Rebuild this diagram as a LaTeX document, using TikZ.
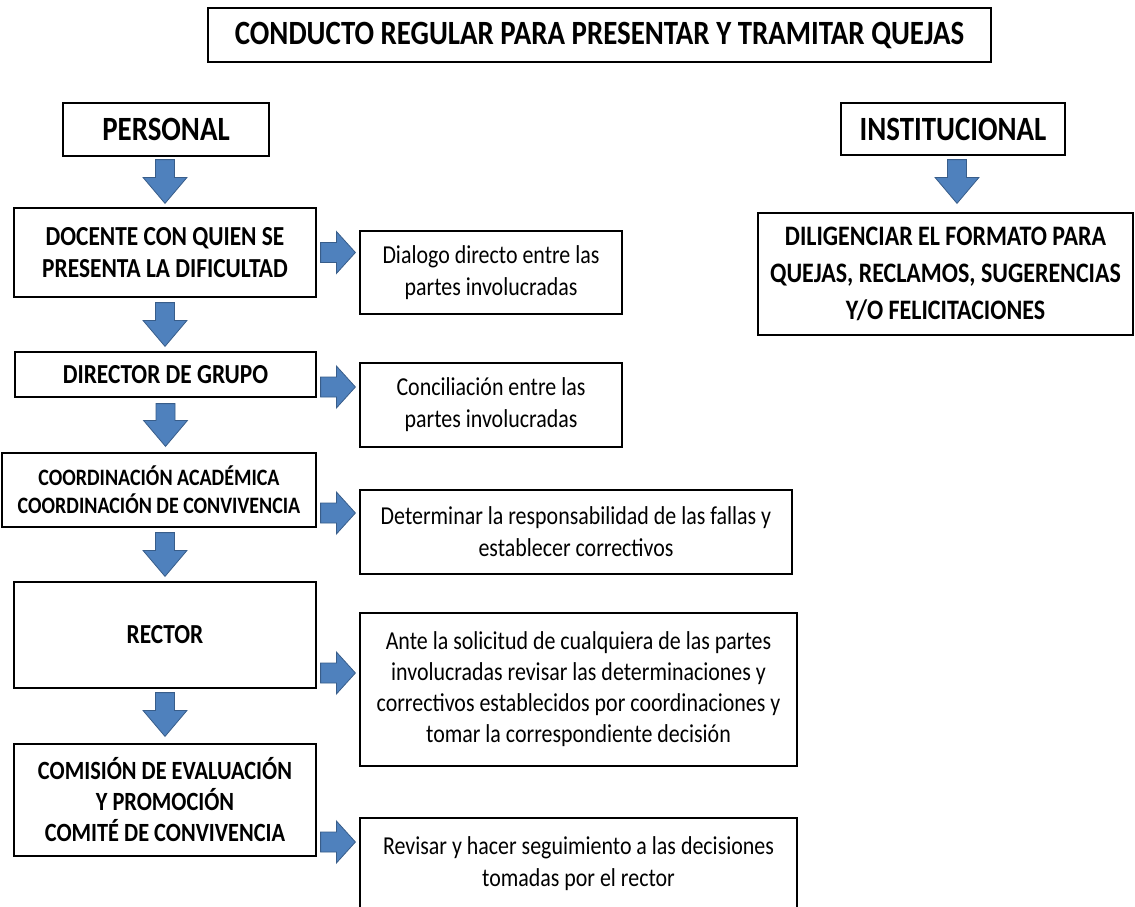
\documentclass[tikz,border=0pt]{standalone}
\usepackage{fontspec}
\setmainfont{Carlito}[FakeStretch=0.85]
\usetikzlibrary{calc}
\definecolor{arrfill}{RGB}{79,129,189}
\definecolor{arrline}{RGB}{56,93,138}
\tikzset{
  box/.style={draw=black, line width=1.2pt, rectangle, inner sep=0pt, align=center, text=black},
  blockarrow/.style={fill=arrfill, draw=arrline, line width=0.8pt, line join=miter},
  headfont/.style={font=\bfseries\fontsize{34}{38}\selectfont},
  labfont/.style={font=\bfseries\fontsize{27.5}{32}\selectfont},
  txtfont/.style={font=\fontsize{25.8}{32}\selectfont},
}
\newcommand\blockdown[2]{\filldraw[blockarrow] let \p1=(#1), \p2=(#2) in
  (\x1-9.5pt,\y1) -- (\x1+9.5pt,\y1) -- (\x1+9.5pt,\y2+26pt) -- (\x1+22pt,\y2+26pt)
  -- (\x1,\y2) -- (\x1-22pt,\y2+26pt) -- (\x1-9.5pt,\y2+26pt) -- cycle;}
\newcommand\blockright[2]{\filldraw[blockarrow] let \p1=(#1), \p2=(#2) in
  (\x1,\y1+10pt) -- (\x2-19pt,\y1+10pt) -- (\x2-19pt,\y1+21pt) -- (\x2,\y1)
  -- (\x2-19pt,\y1-21pt) -- (\x2-19pt,\y1-10pt) -- (\x1,\y1-10pt) -- cycle;}
\begin{document}
\begin{tikzpicture}[x=1pt,y=-1pt]
\useasboundingbox (0,0) rectangle (1135,907);
\clip (0,0) rectangle (1135,907);
\fill[white] (0,0) rectangle (1135,907);
% title
\node[box, headfont, minimum width=783pt, minimum height=54pt] (title) at (599.5,35) {CONDUCTO REGULAR PARA PRESENTAR Y TRAMITAR QUEJAS};
% left column
\node[box, headfont, minimum width=206pt, minimum height=53pt] (personal) at (166,129.5) {PERSONAL};
\node[box, labfont, minimum width=302pt, minimum height=89pt] (docente) at (165,252.5) {DOCENTE CON QUIEN SE\\PRESENTA LA DIFICULTAD};
\node[box, labfont, minimum width=301pt, minimum height=45pt] (director) at (165.5,374.5) {DIRECTOR DE GRUPO};
\node[box, font=\bfseries\fontsize{23.5}{28}\selectfont, minimum width=314pt, minimum height=74pt] (coord) at (159,490) {COORDINACIÓN ACADÉMICA\\COORDINACIÓN DE CONVIVENCIA};
\node[box, labfont, minimum width=302pt, minimum height=106pt] (rector) at (165,635) {RECTOR};
\node[box, font=\bfseries\fontsize{26.3}{31}\selectfont, minimum width=302pt, minimum height=112pt] (comision) at (165,800) {COMISIÓN DE EVALUACIÓN\\Y PROMOCIÓN\\COMITÉ DE CONVIVENCIA};
% right column of text boxes
\node[box, txtfont, minimum width=262pt, minimum height=83pt] (dialogo) at (491,272.5) {Dialogo directo entre las\\partes involucradas};
\node[box, txtfont, minimum width=262pt, minimum height=84pt] (concil) at (491,405) {Conciliación entre las\\partes involucradas};
\node[box, txtfont, minimum width=432pt, minimum height=84pt] (determ) at (576,532) {Determinar la responsabilidad de las fallas y\\establecer correctivos};
\node[box, font=\fontsize{25.8}{31}\selectfont, minimum width=437pt, minimum height=153pt] (ante) at (578.5,689.5) {Ante la solicitud de cualquiera de las partes\\involucradas revisar las determinaciones y\\correctivos establecidos por coordinaciones y\\tomar la correspondiente decisión};
\node[box, txtfont, minimum width=437pt, minimum height=92pt] (revisar) at (578.5,864) {Revisar y hacer seguimiento a las decisiones\\tomadas por el rector};
% institutional
\node[box, headfont, minimum width=224pt, minimum height=52pt] (instit) at (953,129) {INSTITUCIONAL};
\node[box, font=\bfseries\fontsize{28.2}{37}\selectfont, minimum width=375pt, minimum height=122pt] (dilig) at (945.5,274) {DILIGENCIAR EL FORMATO PARA\\QUEJAS, RECLAMOS, SUGERENCIAS\\Y/O FELICITACIONES};
% down arrows
\blockdown{$(personal.south)+(-1,3)$}{$(docente.north)+(0,-4)$}
\blockdown{$(docente.south)+(0,5)$}{$(director.north)+(0,-5)$}
\blockdown{$(director.south)+(0,6)$}{$(coord.north)+(0,-6)$}
\blockdown{$(coord.south -| rector.south)+(0,5)$}{$(rector.north)+(0,-5)$}
\blockdown{$(rector.south)+(0,4)$}{$(comision.north)+(0,-7)$}
\blockdown{$(instit.south)+(4,4)$}{$(dilig.north)+(0,-9)$}
% right arrows
\blockright{$(docente.east)+(4,0)$}{$(dialogo.west)+(-4,0)$}
\blockright{$(director.east)+(4,12.5)$}{$(concil.west)+(-4,0)$}
\blockright{$(coord.east)+(4,23)$}{$(determ.west)+(-4,0)$}
\blockright{$(rector.east)+(4,38)$}{$(ante.west)+(-4,0)$}
\blockright{$(comision.east)+(4,42)$}{$(revisar.west)+(-4,0)$}
\end{tikzpicture}
\end{document}
